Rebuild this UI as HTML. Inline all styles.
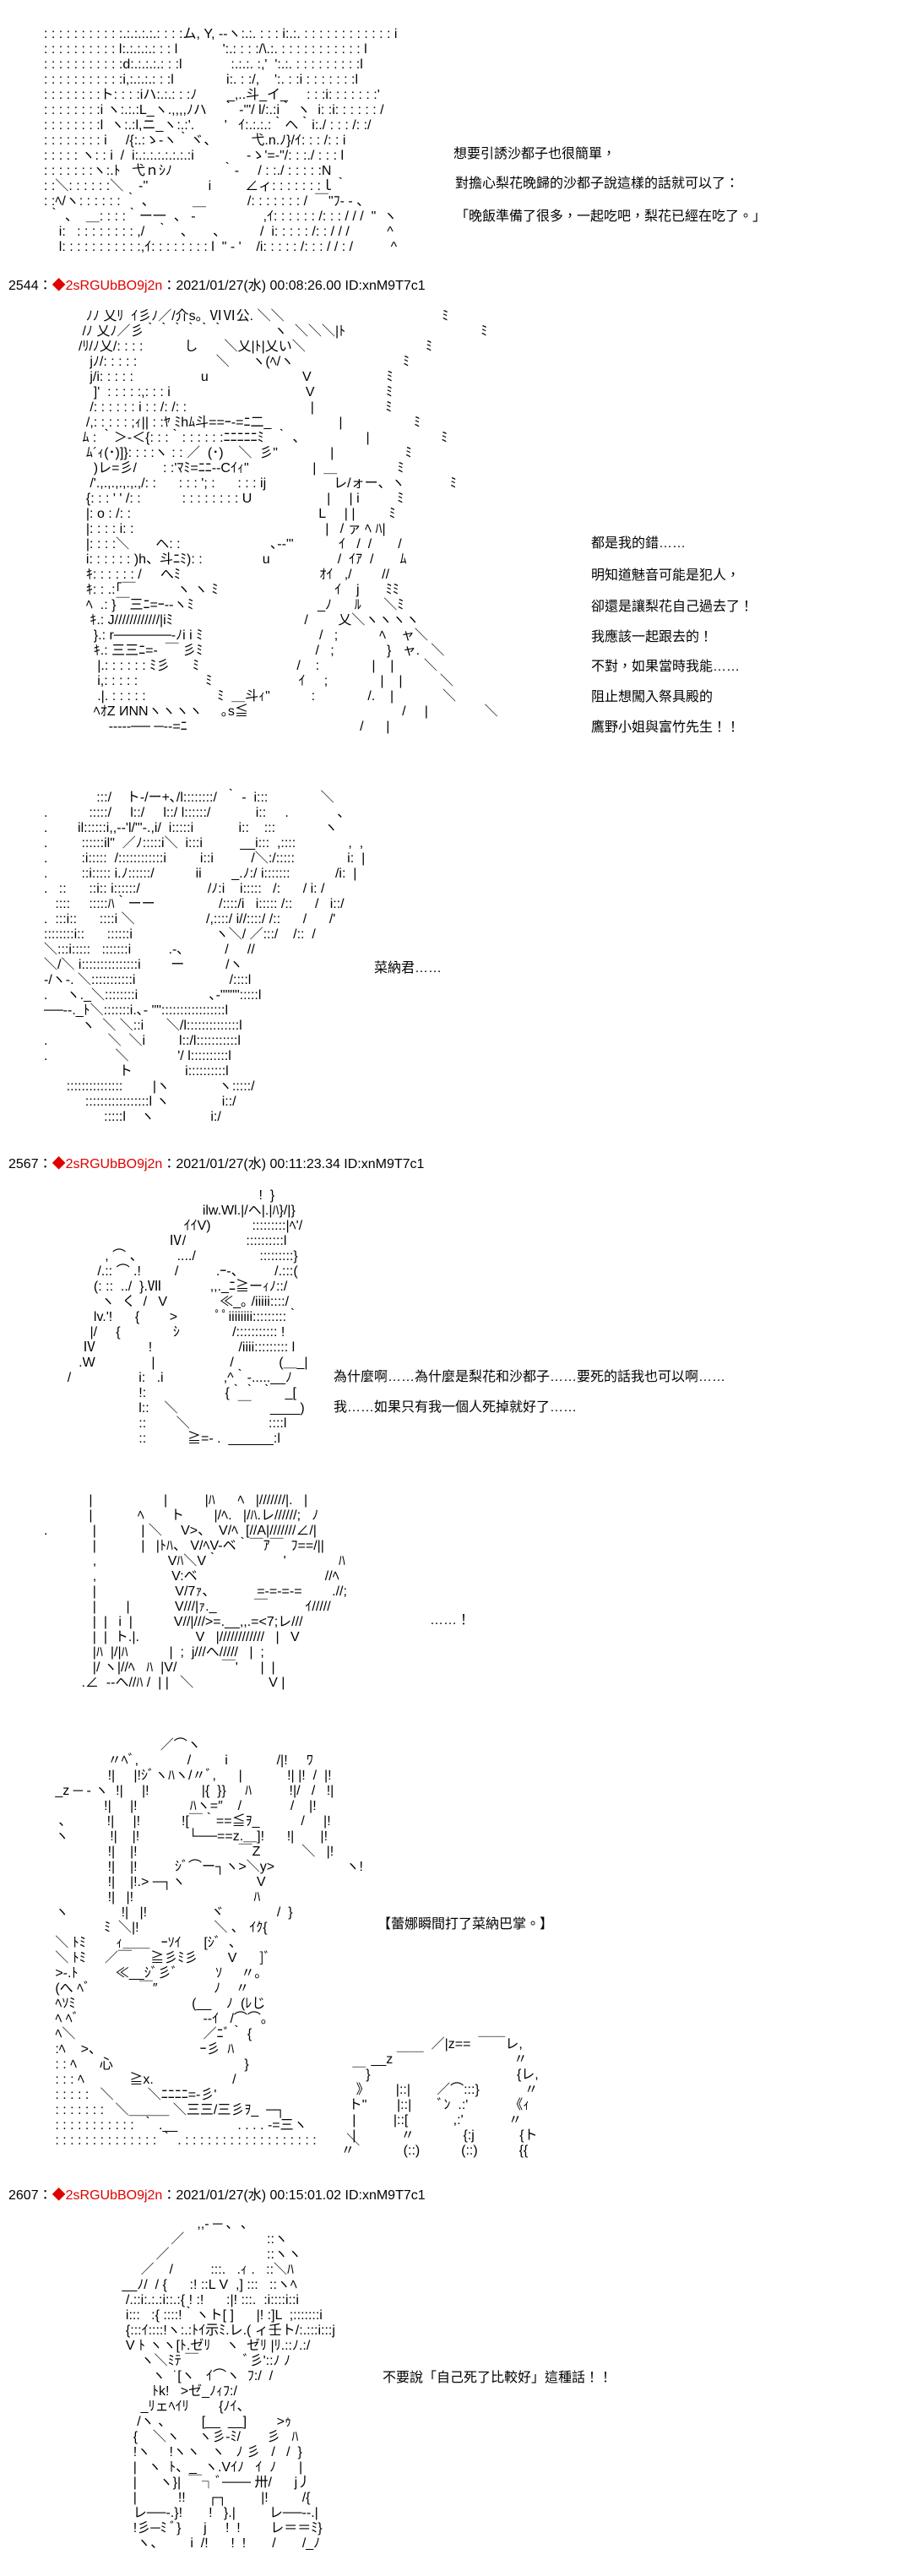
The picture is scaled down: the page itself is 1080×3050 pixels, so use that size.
<!DOCTYPE html>
<html><head><meta charset="utf-8">
<style>
html,body{margin:0;padding:0;background:#fff;}
body{width:1080px;height:3050px;position:relative;overflow:hidden;font-family:"Liberation Sans","Noto Sans CJK JP",sans-serif;color:#000;}
.aa{position:absolute;white-space:pre;font-size:16px;line-height:18px;letter-spacing:0px;}
.t{position:absolute;white-space:pre;font-size:16px;line-height:18px;font-family:"Liberation Sans","Noto Sans CJK TC",sans-serif;}
.h{position:absolute;left:10px;white-space:pre;font-size:16px;line-height:18px;}
.r{color:#e00000;}
</style></head><body>

<div class="aa" style="left:52px;top:32px;">: : : : : : : : : : :.:.:.:.:.: : : :ム, Y, -‐ヽ:.:. : : : i:.:. : : : : : : : : : : : : i
: : : : : : : : : : l:.:.:.:.: : : l            ':.: : : :/\.:. : : : : : : : : : : : l
: : : : : : : : : : :d:.:.:.:.: : :l             :.:.:. :,'  ':.:. : : : : : : : : :l
: : : : : : : : : : :i,:.:.:.: : :l              i:. : :/,    ':. : :i : : : : : : :l
: : : : : : : :ト: : : :iハ:.:.: : :ﾉ        _,..斗_イ_     : : :i: : : : : : :'
: : : : : : : :i ヽ:.:.:L_ヽ.,,,,ﾉハ    ｀ ‐'"/ l/:.:i｀ ヽ  i: :i: : : : : : /
: : : : : : : :l  ヽ:.:l,ニ_ヽ:.:'.        '   ｲ:.:.:.:｀ヘ｀i:./ : : : /: :/
: : : : : : : : i     /{:.:ゝ-ヽ｀ヾ、         弋.n.ﾉ}/ｲ: : : /: : i
: : : : : ヽ: : i  /  i:.:.:.:.:.:.:.:i              -ゝ'=-"/: : :./ : : : l
: : : : : : :ヽ:.ﾄ   弋ｎｼﾉ             ｀‐     / : :./ : : : : :N
: :＼: : : : : :＼    ‐''                i         ∠ィ: : : : : : :ｌ｀
: :ﾍ/ヽ: : : : : : ｀ 、          ＿           /: : : : : : : /  ￣"ﾌ- - 、
 ｀ 、  ＿: : : :｀ー一  、 -                  ,ｲ: : : : : : /: : : / / /  "  ヽ
    i:   : : : : : : : : ,/   ｀   、     、         /  i: : : : : /: : / / /          ^
    l: : : : : : : : : : :,ｲ: : : : : : : : l  " ‐ '    /i: : : : : /: : : / / : /          ^</div>

<div class="t" style="left:537px;top:174px;">想要引誘沙都子也很簡單，</div>
<div class="t" style="left:539px;top:209px;">對擔心梨花晚歸的沙都子說這樣的話就可以了：</div>
<div class="t" style="left:539px;top:248px;">「晚飯準備了很多，一起吃吧，梨花已經在吃了。」</div>

<div class="h" style="top:330px;">2544：<span class="r">◆2sRGUbBO9j2n</span>：2021/01/27(水) 00:08:26.00 ID:xnM9T7c1</div>

<div class="aa" style="left:93px;top:366px;">  ﾉﾉ 乂ﾘ  ｲ彡ﾉ／/介s。ⅥⅥ公. ＼＼                                          ﾐ
 /ﾉ 乂ﾉ／彡｀｀｀｀｀｀             ヽ  ＼＼＼|ﾄ                                    ﾐ
/ﾘ/ﾉ乂/: : : :           し       ＼乂|ﾄ|乂い＼                                ﾐ
   jﾉ/: : : : :                     ＼      ヽ(ﾍ/ヽ                             ﾐ
   j/i: : : : :                  u                         V                    ﾐ
    ]'  : : : : :,: : : i                                    V                   ﾐ
   /: : : : : : i : : /: /: :                                 |                   ﾐ
  /,: : : : : ;ｨ|| : :ﾔ ﾐhﾑ斗==ｰ-=ﾆ二_                  |                   ﾐ
 ﾑ : ｀＞-＜{: : :｀: : : : : :ﾆﾆﾆﾆﾆﾐ   ｀ 、                |                   ﾐ
  ﾑ´ｨ(･)]}: : : :ヽ : : ／  (･)    ＼  彡"              |                   ﾐ
    )レ=彡/       : :'ﾏﾐ=ﾆﾆ--Cｲｨ"                 |  ＿                ﾐ
   /'.,.,.,.,.,.,/: :      : : : '; :      : : : ij                  レ/ォー、ヽ            ﾐ
  {: : : ' ' /: :           : : : : : : : : U                    |     | i          ﾐ
  |: o : /: :                                                  L     | |         ﾐ
  |: : : : i: :                                                   |   / ァ ﾍ ﾊ|
  |: : : :＼       ヘ: :                        ､-‐"'            ｲ   /  /       /
  i: : : : : : )h、斗ﾆﾐ): :                u                  /  ｲｱ  /       ﾑ
  ｷ: : : : : : /     へﾐ                                     ｵｲ   ,/        //
  ｷ: : .:｢￣           ヽ ヽ ﾐ                               ｲ    j       ﾐﾐ
  ﾍ  .: }￣三ﾆ=ｰ--ヽﾐ                                 _ﾉ      ﾙ      ＼ﾐ
   ｷ.: J////////////|iﾐ                                   /        乂＼ヽヽヽヽ
    }.: r──────-ﾉi i ﾐ                               /   ;           ﾍ    ャ＼
    ｷ.: 三三ﾆ=-  ￣ 彡ﾐ                              /   ;              }   ャ.   ＼
     |.: : : : : : ﾐ彡      ﾐ                          /    :              |    |        ＼
     i,: : : : :                  ﾐ                       ｲ     ;              |    |          ＼
     .|. : : : : :                   ﾐ  ＿斗ｨ"           :              /.    |             ＼
    ﾍｵZ ИNNヽヽヽヽ     ｡s≦                                         /     |               ＼
        -----── ─--=ﾆ                                              /      |</div>

<div class="t" style="left:700px;top:635px;">都是我的錯……</div>
<div class="t" style="left:700px;top:673px;">明知道魅音可能是犯人，</div>
<div class="t" style="left:700px;top:710px;">卻還是讓梨花自己過去了！</div>
<div class="t" style="left:700px;top:746px;">我應該一起跟去的！</div>
<div class="t" style="left:700px;top:781px;">不對，如果當時我能……</div>
<div class="t" style="left:700px;top:817px;">阻止想闖入祭具殿的</div>
<div class="t" style="left:700px;top:853px;">鷹野小姐與富竹先生！！</div>

<div class="aa" style="left:52px;top:936px;">              :::/    ト-/ー+､/l::::::::/  ｀ -  i:::              ＼
.           :::::/     l::/     l::/ l::::::/            i::     .             ､
.        il::::::i,,--'l/"'-.,i/  i:::::i            i::    :::             ヽ
.         ::::::il"  ／ﾉ:::::i＼  i:::i          __i:::  ,::::              ,  ,
.         :i:::::  /::::::::::::i         i::i          /＼:/:::::              i:  |
.         ::i::::: i.ﾉ::::::/           ii        _.ﾉ:/ i:::::::            /i:  |
.   ::      ::i:: i::::::/                  /ﾉ:i    i:::::   /:      / i: /
   ::::     :::::ﾊ｀ーー                 /::::/i   i::::: /::      /   i::/
.  :::i::      ::::i ＼                   /,::::/ i//::::/ /::      /      /'
::::::::i::      ::::::i                      ヽ＼/ ／:::/    /::  /
＼:::i:::::   :::::::i          .-､           /     //
＼/＼ i:::::::::::::::i        ー           /ヽ
-/ヽ-. ＼:::::::::::i                         /::::l
.     ヽ._＼::::::::i                   ､-"""":::::l
──--._ﾄ＼:::::::i.､- "":::::::::::::::::l
          ヽ  ＼ ＼::i      ＼/l::::::::::::::l
.                ＼  ＼i         l::/l:::::::::::l
.                  ＼             '/ l::::::::::l
                    ト              i::::::::::l
      :::::::::::::::        |ヽ             ヽ:::::/
           :::::::::::::::::l ヽ              i::/
                :::::l    ヽ               i:/</div>

<div class="t" style="left:443px;top:1138px;">菜納君……</div>

<div class="h" style="top:1370px;">2567：<span class="r">◆2sRGUbBO9j2n</span>：2021/01/27(水) 00:11:23.34 ID:xnM9T7c1</div>

<div class="aa" style="left:62px;top:1407px;">                                                       !  }
                                        ilw.Wl.|/ヘ|.|ﾊ}/|}
                                   ｲｲV)           :::::::::|ﾍ'/
                               Ⅳ/                ::::::::::l
              , ⌒ 、         ..../                 :::::::::}
            /.:: ⌒ .!         /          .ｰ-、        /.:::(
           (: ::  ../  }.Ⅶ             ,,._ﾆ≧ーｨﾉ::/
             ヽ  く  /   V              ≪_｡ /iiiii::::/
           lv.'!      {        &gt;          ﾟﾟiiiiiiii:::::::::｀
          |/     {              ｼ              /::::::::::: !
        Ⅳ              !                       /iiii::::::::: l
       .W               |                    /            (＿_|
    /                  i:   .i                ,^｀-.....__ﾉ
                       !:                     {｀｀ ｀   _[
                       l::    ＼                ￣     ____)
                       ::        ＼                     ::::l
                       ::           ≧=- .  ______:l</div>

<div class="t" style="left:395px;top:1622px;">為什麼啊……為什麼是梨花和沙都子……要死的話我也可以啊……</div>
<div class="t" style="left:395px;top:1658px;">我……如果只有我一個人死掉就好了……</div>

<div class="aa" style="left:52px;top:1768px;">            |                   |          |ﾊ      ﾍ   |///////|.   |
            |            ﾍ       ト        |/ﾍ.   |/ﾊ.レ//////;   ﾉ
.            |            | ＼     V&gt;、  V/ﾍ  [//A|///////∠/|
             |            |   |ﾄﾊ、 V/ﾍV-ベ｀￣ｱ￣  ﾌ==/||
             ,                   Vﾊ＼V｀                 '              ﾊ
             ,                    V:ベ                                  //ﾍ
             |                     V/7ｧ、           =-=-=-=        .//;
             |        |            V///|ｧ._          ￣          ｲ/////
             |  |   i  |           V//|///&gt;=.__,,.=&lt;7;レ///
             |  |  ト.|.               V   |////////////   |   V
             |ﾊ  |/|ﾊ           |  ;  j///ヘ/////   |  ;
             |/ ヽ|//ﾍ   ﾊ  |V/            ￣'      |  |
          .∠  --ヘ//ﾊ /  | |   ＼                    V |</div>

<div class="t" style="left:509px;top:1910px;">……！</div>

<div class="aa" style="left:52px;top:2058px;">                               ／⌒ヽ
                 〃ﾍﾞ,             /         i             /|!     ﾜ
                 !|     |!ｼﾞヽﾊヽ/〃ﾞ,      |            !| |!  /  |!
   _z ─ ‐ ヽ  !|     |!              |{  }}     ﾊ          !|/   /   !|
                !|     |!              ﾊヽ=″    /             /    |!
    ､           !|     |!           ![￣｀==≦ｦ_           /     |!
   ヽ           !|    |!             └──==z.＿]!      !|       |!
                 !|    |!                           ￣Z           ＼   |!
                 !|    |!          ｼﾞ⌒ー┐ヽ&gt;＼y&gt;                   ヽ!
                 !|    |!.&gt; ─┐ヽ                   V
                 !|   |!                                ﾊ
   ヽ              !|   |!                 ヾ              /  }
                ﾐ  ＼|!                    ＼ ､   ｲｸ{
   ＼ ﾄﾐ        ｨ＿＿   ｰｿｲ      [ｼﾞ  、
   ＼ ﾄﾐ     ／￣     ≧彡ﾐ彡        V      ]ﾞ
   &gt;-.ﾄ          ≪__ｼﾞ彡ﾞ          ｿ     〃｡
   (へ ﾍﾞ             ￣″               ﾉ    〃
   ﾍｿﾐ                               (__    ﾉ  (ﾚじ
   ﾍ ﾍﾞ                                 --ｲ   /⌒⌒｡
   ﾍ＼                                  ／ﾆﾞ｀ {
   :ﾍ    &gt;、                          ｰ彡  ﾊ
   : : ﾍ      心                                   }
   : : : ﾍ            ≧x.                     /
   : : : : :   ＼         ＼ﾆﾆﾆﾆ=-彡'
   : : : : : : :   ＼＿＿＿ ＼三三/三彡ｦ_  ─┐
   : : : : : : : : : : :  ｀ .__                . . . . -=三ヽ
   : : : : : : : : : : : : : : ｀ . : : : : : : : : : : : : : : : : : :        ＼</div>

<div class="t" style="left:447px;top:2270px;">【蕾娜瞬間打了菜納巴掌。】</div>

<div class="aa" style="left:395px;top:2412px;">                          ／|z==  ￣￣レ,
          __z ￣￣                        〃
     ￣}                                       {レ,
      》       |::|       ／⌒:::}            〃
    ト"        |::|       ﾞﾝ  .:'           《ｨ
     |          |::[            ,:'            〃
     |            〃             {:j            {ト
  〃             (::)           (::)           {{</div>

<div class="h" style="top:2591px;">2607：<span class="r">◆2sRGUbBO9j2n</span>：2021/01/27(水) 00:15:01.02 ID:xnM9T7c1</div>

<div class="aa" style="left:100px;top:2625px;">                              ,,- ─ ､  、
                       ／                      ::ヽ
                   ／                          ::ヽヽ
               ／    /          :::.   .ｨ .   ::＼ﾊ
          __ﾉ/  / {      :! ::L V  ,] :::   ::ヽﾍ
           /.::i:.:.:i::.:{ ! :!      :|! :::.  :i::::i::i
           i:::   :{ ::::!｀ヽト[ ]      |! :]L  ;:::::::i
           {:::ｲ::::!ヽ:.:ﾄｲ示ﾐ.レ.( ィ壬ト/:.:::i:::j
           V ﾄ ヽヽ[ﾄ.ゼﾘ    ヽ  ゼﾘ |ﾘ.::ﾉ.:/
               ヽ＼ﾐﾃ ￣            ﾞ彡'::ﾉ ﾉ
                  ヽ  ˙[ヽ   ｲ⌒ヽ  ﾌ:/  /
                  ﾄk!   &gt;ゼ_ﾉｨﾌ:/
               _ﾘェﾍｲﾘ        {ﾉｲ、
              /ヽ 、        [__  __]        &gt;ｩ
             {    ＼ヽ     ヽ彡-ﾐ/       彡   ﾊ
             !ヽ     !ヽヽ   ヽ   ﾉ 彡   /   /  }
             |   ヽ  ﾄ、_  ヽ.Vｲﾉ   ｲ  ﾉ      |
             |      ヽ}|  ￣┐ﾞ─── 卅/      j丿
             |           !!      ┌┐         |!         /{
             レ──-.}!       !   }.|         レ──‐-.|
             !彡─ﾐ ﾞ}      j     !  !        レ＝＝ﾐ}
              ヽ、       i  /!      !  !       /       /_ﾉ</div>

<div class="t" style="left:453px;top:2807px;">不要說「自己死了比較好」這種話！！</div>

</body></html>
